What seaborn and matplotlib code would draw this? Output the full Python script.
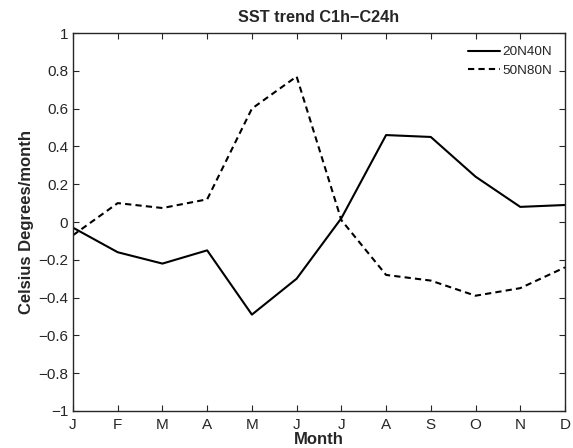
import matplotlib
matplotlib.use("Agg")
import matplotlib.pyplot as plt
import seaborn as sns
import pandas as pd

months = ["J", "F", "M", "A", "M", "J", "J", "A", "S", "O", "N", "D"]
series_20N40N = [-0.03, -0.16, -0.22, -0.15, -0.49, -0.30, 0.02, 0.46, 0.45, 0.24, 0.08, 0.09]
series_50N80N = [-0.07, 0.10, 0.074, 0.12, 0.60, 0.77, 0.01, -0.28, -0.31, -0.39, -0.35, -0.24]
yticks = [-1, -0.8, -0.6, -0.4, -0.2, 0, 0.2, 0.4, 0.6, 0.8, 1]
ytick_labels = ["\u22121", "\u22120.8", "\u22120.6", "\u22120.4", "\u22120.2", "0", "0.2", "0.4", "0.6", "0.8", "1"]

sns.set_style("ticks")
plt.rcParams["font.family"] = ["Liberation Sans", "DejaVu Sans"]

idx = list(range(1, 13))
df = pd.DataFrame({
    "month": idx * 2,
    "value": series_20N40N + series_50N80N,
    "series": ["20N40N"] * 12 + ["50N80N"] * 12,
})

fig = plt.figure(figsize=(5.73, 4.48), dpi=100)
ax = fig.add_axes([0.1274, 0.0826, 0.8586, 0.8437])
sns.lineplot(data=df, x="month", y="value", style="series", color="black",
             dashes={"20N40N": "", "50N80N": (3, 2)}, linewidth=1.5, ax=ax)

ax.set_xlim(1, 12)
ax.set_ylim(-1, 1)
ax.set_xticks(idx)
ax.set_xticklabels(months, fontsize=11)
ax.set_yticks(yticks)
ax.set_yticklabels(ytick_labels, fontsize=11)
ax.tick_params(direction="in", top=True, right=True, length=4, width=0.8)
ax.tick_params(axis="x", pad=5)
ax.tick_params(axis="y", pad=3.5)
for s in ax.spines.values():
    s.set_linewidth(1.0)
    s.set_visible(True)
ax.set_xlabel("Month", fontsize=12, fontweight="bold", labelpad=0)
ax.set_ylabel("Celsius Degrees/month", fontsize=12, fontweight="bold", labelpad=3)
ax.set_title("SST trend C1h\u2212C24h", fontsize=11.7, fontweight="bold", pad=8)
leg = ax.legend(loc="upper right", frameon=False, fontsize=9.7, handlelength=2.4,
                handletextpad=0.15, borderaxespad=0.55, labelspacing=0.45)
fig.savefig("out.png", dpi=100)
